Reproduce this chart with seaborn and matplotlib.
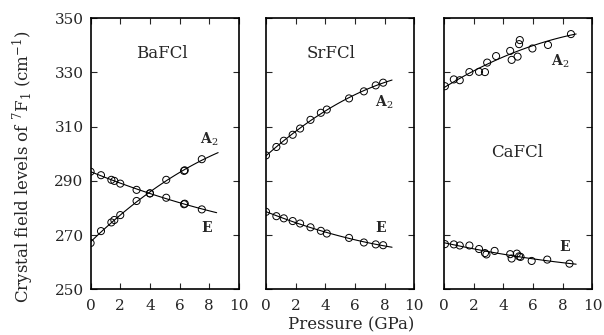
import numpy as np
import pandas as pd
import matplotlib
matplotlib.use('Agg')
import matplotlib.pyplot as plt
import seaborn as sns

# BaFCl
ba_a2_p = [0.0, 0.7, 1.4, 1.6, 2.0, 3.1, 4.0, 5.1, 6.3, 6.35, 7.5]
ba_a2 = [267.1, 271.5, 274.7, 275.6, 277.4, 282.6, 285.4, 290.4, 293.7, 293.9, 298.0]
ba_e_p = [0.0, 0.7, 1.4, 1.6, 2.0, 3.1, 4.0, 5.1, 6.3, 6.35, 7.5]
ba_e = [293.4, 292.1, 290.4, 290.0, 289.0, 286.7, 285.4, 283.8, 281.4, 281.6, 279.5]

# SrFCl
sr_p = [0.0, 0.7, 1.2, 1.8, 2.3, 3.0, 3.7, 4.1, 5.6, 6.6, 7.4, 7.9]
sr_a2 = [299.4, 302.5, 304.8, 307.0, 309.3, 312.5, 315.1, 316.3, 320.4, 323.0, 325.2, 326.2]
sr_e = [278.6, 277.0, 276.2, 275.2, 274.3, 272.9, 271.6, 270.6, 269.0, 267.3, 266.6, 266.3]

# CaFCl
ca_a2_p = [0.05, 0.65, 1.05, 1.7, 2.35, 2.75, 2.9, 3.5, 4.45, 4.55, 4.95, 5.05, 5.1, 5.95, 7.0, 8.55]
ca_a2 = [324.9, 327.4, 327.1, 330.1, 330.2, 330.1, 333.6, 336.0, 337.9, 334.6, 335.8, 340.4, 341.9, 338.8, 340.1, 344.1]
ca_e_p = [0.05, 0.65, 1.05, 1.7, 2.35, 2.75, 2.85, 3.4, 4.45, 4.55, 4.9, 5.05, 5.15, 5.9, 6.95, 8.45]
ca_e = [266.7, 266.6, 266.2, 266.2, 264.9, 263.4, 262.9, 264.2, 263.0, 261.4, 263.2, 262.2, 262.0, 260.5, 261.0, 259.5]

# fim das curvas ajustadas (GPa)
fit_end = {'BaFCl': (8.6, 8.5), 'SrFCl': (8.5, 8.5), 'CaFCl': (8.9, 8.9)}

sns.set_style('ticks')
plt.rcParams['font.family'] = ['DejaVu Serif']
plt.rcParams['mathtext.fontset'] = 'dejavuserif'


def desenhar_serie(ax, p, v, x_end):
    """Pontos abertos + ajuste quadratico"""
    df = pd.DataFrame({'P': p, 'v': v})
    sns.scatterplot(data=df, x='P', y='v', ax=ax, s=26, facecolor='none',
                    edgecolor='black', linewidth=0.7, legend=False, zorder=3)
    coef = np.polyfit(p, v, 2)
    xs = np.linspace(0, x_end, 60)
    fit = pd.DataFrame({'P': xs, 'v': np.polyval(coef, xs)})
    sns.lineplot(data=fit, x='P', y='v', ax=ax, color='black', lw=0.8,
                 estimator=None, sort=False, legend=False)


def formatar_eixo(ax, show_y):
    ax.set_xlim(0, 10)
    ax.set_ylim(250, 350)
    ax.set_xticks(range(0, 11, 2))
    ax.set_yticks(range(250, 351, 20))
    ax.tick_params(direction='in', top=True, right=True, length=4.5, width=0.8,
                   labelsize=11)
    ax.tick_params(axis='x', pad=7)
    ax.tick_params(axis='y', pad=5)
    if not show_y:
        ax.set_yticklabels([])
    ax.set_xlabel('')
    ax.set_ylabel('')
    for s in ax.spines.values():
        s.set_linewidth(1.2)
        s.set_color('black')


fig = plt.figure(figsize=(6.04, 3.35), dpi=100)
bottom, top = 0.136, 0.946
lefts = [0.150, 0.4404, 0.7354]
w = 0.2455

painel = [
    ('BaFCl', ba_a2_p, ba_a2, ba_e_p, ba_e, (4.8, 337), (8.0, 305.5), (7.85, 272.5)),
    ('SrFCl', sr_p, sr_a2, sr_p, sr_e, (4.4, 337), (8.0, 318.8), (7.7, 272.5)),
    ('CaFCl', ca_a2_p, ca_a2, ca_e_p, ca_e, (4.9, 300.3), (7.8, 334.2), (8.1, 265.7)),
]

for i, (nome, pa, va, pe, ve, pos_nome, pos_a2, pos_e) in enumerate(painel):
    ax = fig.add_axes([lefts[i], bottom, w, top - bottom])
    desenhar_serie(ax, pa, va, fit_end[nome][0])
    desenhar_serie(ax, pe, ve, fit_end[nome][1])
    formatar_eixo(ax, i == 0)
    ax.text(pos_nome[0], pos_nome[1], nome, fontsize=12, ha='center', va='center')
    ax.text(pos_a2[0], pos_a2[1], r'A$_2$', fontsize=10, ha='center', va='center', fontweight='bold')
    ax.text(pos_e[0], pos_e[1], 'E', fontsize=10, ha='center', va='center', fontweight='bold')

fig.text(0.038, 0.503, r'Crystal field levels of $^7$F$_1$ (cm$^{-1}$)',
         rotation=90, ha='center', va='center', fontsize=12)
fig.text(0.582, 0.03, 'Pressure (GPa)', ha='center', va='center', fontsize=12)

fig.savefig('out.png', dpi=100)
